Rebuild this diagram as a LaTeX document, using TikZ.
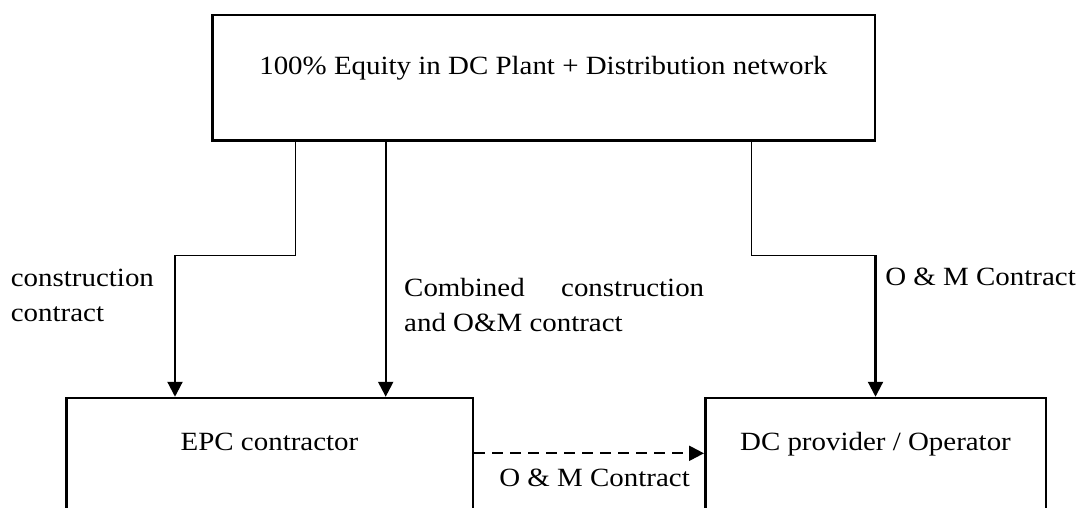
\documentclass[tikz,border=0pt]{standalone}
\usepackage{fontspec}
\setmainfont{Liberation Serif}[FakeStretch=1.1]
\usetikzlibrary{arrows.meta}
\begin{document}
\begin{tikzpicture}[x=1pt,y=-1pt,
  txt/.style={font=\fontsize{26.3}{35}\selectfont},
  box/.style={txt, draw, line width=2.5pt, rectangle, inner sep=0pt, text height=18pt},
  lbl/.style={txt, inner sep=0pt, align=left},
  link/.style={line width=0.9pt},
  feed/.style={line width=2.2pt, -{Triangle[length=15pt,width=15pt]}},
  side/.style={feed, dash pattern=on 11pt off 7pt}]
\useasboundingbox (0,0) rectangle (1081,508);
\clip (0,0) rectangle (1081,508);

% boxes
\node[box, minimum width=662.5pt, minimum height=125.5pt, text depth=24pt]
  (top) at (543.5,78) {100\% Equity in DC Plant + Distribution network};
\node[box, minimum width=406.5pt, minimum height=200pt, text depth=112.6pt]
  (epc) at (269.5,498) {EPC contractor};
\node[box, minimum width=340.5pt, minimum height=200pt, text depth=114pt]
  (dc) at (875.5,498) {DC provider / Operator};

% jog points of the stepped connectors
\coordinate (jl) at (175,255);
\coordinate (jr) at (875.5,255);

% connectors
\draw[link] (top.south -| 295,0) |- (jl);
\draw[feed] (jl) -- (epc.north -| jl);
\draw[feed] (top.south -| 385.7,0) -- (epc.north -| 385.7,0);
\draw[link] (top.south -| 751,0) |- (jr);
\draw[feed] (jr) -- (dc.north -| jr);
\draw[side] (epc.east |- 0,453.3) -- (dc.west |- 0,453.3);

% labels (base anchor sits on the last line)
\node[lbl, anchor=base west] (lcon) at (10.7,321.7) {construction\\contract};
\node[lbl, anchor=base west] (lcomb) at (404,331.7)
  {\makebox[300pt][l]{Combined\hfill construction}\\and O\&M contract};
\node[lbl, anchor=base east] (lom) at (1076,285) {O \& M Contract};
\node[lbl, anchor=base east] (lom2) at (690,486.7) {O \& M Contract};
\end{tikzpicture}
\end{document}
